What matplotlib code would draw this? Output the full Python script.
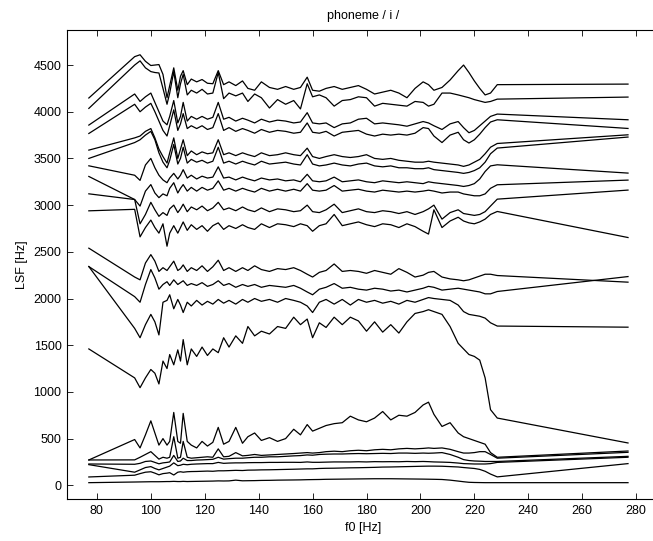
import matplotlib
matplotlib.use('Agg')
import matplotlib.pyplot as plt

plt.rcParams['font.family'] = ['Liberation Sans', 'DejaVu Sans']

# f0 grid [Hz]
f0 = [77, 94, 96, 98, 100, 101.5, 103, 104.5, 106, 107,
      108.5, 110, 111, 112, 113.5, 115, 117, 119, 121, 123,
      125, 127, 129, 131.5, 134, 136, 138.5, 141, 144, 147,
      150, 153, 155.5, 158, 160, 162.5, 165, 168, 171, 174,
      177, 180, 183, 186, 189, 192, 195, 198, 201, 203,
      205, 208, 211, 214, 216, 218, 220, 222, 224, 226,
      228.5, 277]

# LSF tracks [Hz], highest first
lsf20 = [4147, 4590, 4610, 4540, 4495, 4500, 4505, 4400, 4150, 4280,
         4470, 4230, 4380, 4440, 4290, 4350, 4320, 4345, 4305, 4300,
         4440, 4290, 4320, 4280, 4330, 4250, 4230, 4320, 4260, 4240,
         4270, 4240, 4260, 4370, 4230, 4220, 4250, 4270, 4240, 4260,
         4280, 4240, 4190, 4210, 4230, 4200, 4150, 4250, 4320, 4290,
         4230, 4260, 4340, 4440, 4500, 4420, 4330, 4250, 4180, 4200,
         4290, 4296]
lsf19 = [4036, 4500, 4545, 4470, 4430, 4420, 4415, 4250, 4080, 4200,
         4430, 4150, 4300, 4400, 4180, 4230, 4200, 4240, 4190, 4200,
         4420, 4140, 4200, 4170, 4200, 4110, 4190, 4150, 4040, 4130,
         4080, 4120, 4030, 4300, 4160, 4180, 4150, 4060, 4120, 4130,
         4160, 4150, 4060, 4090, 4080, 4070, 4060, 4110, 4100, 4060,
         4080, 4200, 4200, 4180, 4165, 4150, 4130, 4115, 4100, 4110,
         4135, 4157]
lsf18 = [3857, 4190, 4110, 4160, 4200, 4100, 4000, 3900, 3860, 3950,
         4120, 3880, 3950, 4100, 3900, 3950, 3920, 3950, 3920, 3940,
         4100, 3920, 3940, 3900, 3930, 3910, 3880, 3920, 3890, 3910,
         3900, 3880, 3890, 3990, 3880, 3870, 3880, 3830, 3870, 3880,
         3920, 3930, 3870, 3880, 3870, 3860, 3845, 3870, 3895, 3880,
         3850, 3810, 3870, 3895, 3830, 3775, 3800, 3850, 3900, 3950,
         3975, 3914]
lsf17 = [3767, 4080, 4000, 4050, 4090, 4000, 3900, 3800, 3740, 3850,
         4020, 3800, 3870, 3980, 3820, 3850, 3820, 3850, 3810, 3830,
         3980, 3800, 3830, 3790, 3820, 3800, 3770, 3810, 3780, 3800,
         3790, 3770, 3780, 3880, 3780, 3770, 3790, 3740, 3780, 3790,
         3800, 3760, 3740, 3760, 3750, 3760, 3750, 3770, 3830, 3820,
         3740, 3670, 3750, 3780, 3700, 3665, 3700, 3760, 3830, 3890,
         3914, 3821]
lsf16 = [3589, 3720, 3740, 3790, 3820, 3720, 3600, 3520, 3450, 3560,
         3720, 3500, 3600, 3700, 3530, 3580, 3540, 3570, 3550, 3560,
         3700, 3540, 3560, 3530, 3560, 3540, 3520, 3560, 3530, 3540,
         3560, 3540, 3530, 3610, 3520, 3500, 3520, 3540, 3520, 3510,
         3520, 3540, 3500, 3490, 3500, 3480, 3470, 3460, 3460, 3470,
         3460, 3450, 3440, 3430, 3415, 3430, 3460, 3490, 3550, 3620,
         3660, 3753]
lsf15 = [3500, 3670, 3700, 3750, 3790, 3700, 3560, 3460, 3400, 3480,
         3650, 3440, 3500, 3620, 3450, 3490, 3460, 3480, 3450, 3470,
         3620, 3450, 3470, 3440, 3470, 3450, 3430, 3470, 3440, 3450,
         3460, 3440, 3430, 3540, 3440, 3420, 3430, 3450, 3430, 3420,
         3440, 3450, 3420, 3410, 3420, 3400, 3400, 3390, 3390, 3400,
         3380, 3370, 3360, 3350, 3340, 3350, 3370, 3400, 3460, 3550,
         3611, 3729]
lsf14 = [3421, 3320, 3265, 3430, 3500, 3400, 3320, 3270, 3240, 3290,
         3340, 3280, 3320, 3380, 3290, 3320, 3280, 3310, 3290, 3300,
         3410, 3290, 3300, 3270, 3300, 3280, 3260, 3290, 3270, 3280,
         3260, 3270, 3250, 3330, 3260, 3250, 3260, 3300, 3250, 3260,
         3270, 3250, 3240, 3260, 3250, 3240, 3250, 3240, 3230, 3250,
         3240, 3230, 3220, 3210, 3200, 3210, 3230, 3280, 3360, 3420,
         3432, 3343]
lsf13 = [3307, 3060, 2990, 3150, 3220, 3130, 3080, 3120, 3100, 3180,
         3240, 3130, 3180, 3220, 3150, 3190, 3150, 3190, 3160, 3180,
         3260, 3160, 3180, 3150, 3180, 3160, 3140, 3180, 3150, 3170,
         3150, 3170, 3150, 3230, 3160, 3150, 3160, 3210, 3150, 3160,
         3170, 3150, 3140, 3160, 3150, 3140, 3150, 3140, 3150, 3160,
         3150, 3130, 3140, 3140, 3120, 3110, 3100, 3100, 3120, 3180,
         3218, 3268]
lsf12 = [3121, 3060, 2800, 2900, 3030, 2950, 2880, 2920, 2890, 2960,
         3000, 2920, 2960, 3010, 2930, 2980, 2950, 2990, 2940, 2970,
         3030, 2950, 2970, 2940, 2980, 2950, 2930, 2970, 2930, 2960,
         2950, 2930, 2940, 3000, 2930, 2920, 2950, 3010, 2920, 2940,
         2960, 2930, 2920, 2940, 2930, 2910, 2930, 2900, 2930, 2960,
         3000, 2850, 2920, 2950, 2910, 2900, 2890, 2900, 2930, 2990,
         3064, 3161]
lsf11 = [2939, 2955, 2660, 2760, 2840, 2760, 2700, 2800, 2560, 2700,
         2780, 2700, 2760, 2820, 2730, 2790, 2740, 2780, 2720, 2780,
         2810, 2740, 2780, 2750, 2790, 2760, 2740, 2800, 2760, 2800,
         2790, 2770, 2800, 2780, 2720, 2780, 2800, 2900, 2780, 2800,
         2820, 2790, 2770, 2800, 2790, 2760, 2800, 2770, 2720, 2690,
         2950, 2760, 2830, 2870, 2830, 2810, 2800, 2820, 2850, 2900,
         2932, 2653]
lsf10 = [2539, 2230, 2200, 2380, 2470, 2400, 2290, 2330, 2300, 2340,
         2400, 2300, 2320, 2360, 2290, 2330, 2300, 2350, 2290, 2340,
         2410, 2300, 2330, 2290, 2330, 2300, 2350, 2310, 2290, 2320,
         2310, 2330, 2300, 2260, 2230, 2280, 2300, 2370, 2290, 2300,
         2290, 2270, 2300, 2280, 2260, 2320, 2280, 2230, 2250, 2280,
         2290, 2230, 2210, 2200, 2190, 2200, 2220, 2240, 2260, 2260,
         2246, 2175]
lsf09 = [2342, 2020, 1960, 2150, 2310, 2220, 2100, 2150, 2180, 2140,
         2200, 2150, 2170, 2190, 2140, 2160, 2140, 2170, 2130, 2150,
         2190, 2140, 2160, 2120, 2150, 2130, 2150, 2120, 2140, 2130,
         2120, 2140, 2110, 2070, 2040, 2100, 2120, 2160, 2110, 2120,
         2100, 2090, 2110, 2100, 2080, 2090, 2070, 2090, 2110, 2130,
         2120, 2090, 2100, 2110, 2100, 2090, 2080, 2070, 2050, 2050,
         2075, 2235]
lsf08 = [2342, 1680, 1580, 1720, 1830, 1750, 1610, 1960, 1980, 2040,
         1890, 1990, 1930, 1850, 1960, 1920, 1980, 1930, 1970, 1940,
         1990, 1950, 1980, 1940, 1990, 1960, 2000, 1970, 1990, 1960,
         2000, 1980, 1960, 1920, 1850, 1960, 1990, 1940, 1990, 1930,
         1990, 1960, 1980, 1950, 1970, 1940, 1980, 1960, 1990, 2010,
         2000, 1990, 1980, 1930, 1860, 1830, 1820, 1810, 1790, 1740,
         1705, 1693]
lsf07 = [1460, 1150, 1045, 1150, 1240, 1200, 1085, 1330, 1250, 1400,
         1290, 1450, 1330, 1560, 1290, 1460, 1380, 1480, 1390, 1460,
         1420, 1580, 1480, 1600, 1520, 1700, 1600, 1650, 1620, 1700,
         1680, 1800, 1720, 1780, 1580, 1740, 1690, 1800, 1720, 1800,
         1760, 1650, 1750, 1640, 1720, 1630, 1750, 1840, 1860, 1880,
         1860, 1830, 1700, 1520, 1460, 1400, 1380, 1340, 1150, 810,
         720, 453]
lsf06 = [271, 490, 400, 540, 690, 560, 430, 500, 430, 470,
         780, 470, 450, 770, 470, 430, 400, 470, 420, 460,
         620, 440, 470, 620, 450, 520, 560, 480, 510, 470,
         500, 600, 540, 650, 580, 610, 640, 660, 670, 740,
         700, 680, 720, 790, 700, 750, 740, 780, 860, 890,
         760, 630, 670, 560, 520, 500, 480, 460, 440, 350,
         300, 367]
lsf05 = [271, 272, 300, 330, 360, 320, 280, 300, 290, 300,
         520, 290, 300, 470, 300, 290, 295, 300, 305, 300,
         390, 305, 310, 350, 315, 320, 330, 320, 325, 330,
         335, 340, 345, 350, 345, 350, 360, 365, 360, 370,
         375, 370, 380, 385, 380, 390, 395, 390, 395, 400,
         395, 400, 385, 360, 345, 345, 350, 360, 360, 330,
         290, 353]
lsf04 = [228, 225, 235, 255, 260, 245, 230, 240, 245, 250,
         320, 255, 260, 290, 265, 265, 270, 272, 275, 278,
         300, 280, 285, 290, 290, 295, 300, 300, 305, 305,
         310, 315, 318, 325, 322, 330, 333, 335, 335, 338,
         340, 338, 340, 342, 340, 345, 345, 342, 345, 343,
         345, 350, 330, 300, 275, 265, 260, 258, 255, 255,
         255, 310]
lsf03 = [221, 140, 165, 190, 200, 180, 165, 180, 195, 205,
         240, 210, 215, 225, 220, 225, 228, 230, 232, 232,
         245, 235, 238, 240, 240, 242, 243, 243, 245, 245,
         246, 246, 245, 250, 246, 246, 248, 250, 250, 250,
         252, 250, 253, 252, 253, 252, 255, 253, 255, 253,
         250, 248, 245, 238, 232, 230, 228, 228, 228, 232,
         245, 300]
lsf02 = [89, 108, 125, 140, 145, 130, 112, 125, 130, 135,
         110, 140, 145, 140, 145, 147, 148, 150, 152, 150,
         155, 155, 157, 160, 158, 162, 163, 165, 166, 168,
         170, 172, 174, 176, 176, 180, 182, 183, 185, 187,
         188, 190, 192, 195, 196, 198, 200, 202, 204, 205,
         205, 204, 200, 196, 190, 185, 180, 170, 150, 120,
         90, 232]
lsf01 = [28, 35, 36, 37, 38, 38, 38, 39, 40, 40,
         42, 40, 40, 42, 40, 41, 42, 43, 44, 45,
         47, 46, 47, 55, 48, 49, 50, 52, 53, 55,
         56, 57, 58, 60, 61, 62, 64, 65, 66, 67,
         68, 69, 70, 70, 70, 69, 68, 67, 66, 65,
         64, 62, 55, 45, 38, 32, 30, 29, 28, 28,
         28, 28]

tracks = [lsf01, lsf02, lsf03, lsf04, lsf05, lsf06, lsf07, lsf08, lsf09, lsf10,
          lsf11, lsf12, lsf13, lsf14, lsf15, lsf16, lsf17, lsf18, lsf19, lsf20]

fig = plt.figure(figsize=(6.53, 5.41), dpi=100)
ax = fig.add_axes([0.1026, 0.0771, 0.9066, 0.8674])

for tr in tracks:
    ax.plot(f0, tr, color='black', linewidth=0.9)

ax.set_xlim(68.9, 288.5)
ax.set_ylim(-150, 4875)
ax.set_xticks(range(80, 281, 20))
ax.set_yticks(range(0, 4501, 500))
ax.tick_params(direction='in', top=True, right=True, length=4, width=0.6,
               labelsize=9, pad=4)
for sp in ax.spines.values():
    sp.set_linewidth(0.8)

ax.set_xlabel('f0 [Hz]', fontsize=9, labelpad=4)
ax.set_ylabel('LSF [Hz]', fontsize=9, labelpad=4)
ax.set_title('phoneme / i /', fontsize=9, pad=8)

fig.savefig('out.png', dpi=100)
